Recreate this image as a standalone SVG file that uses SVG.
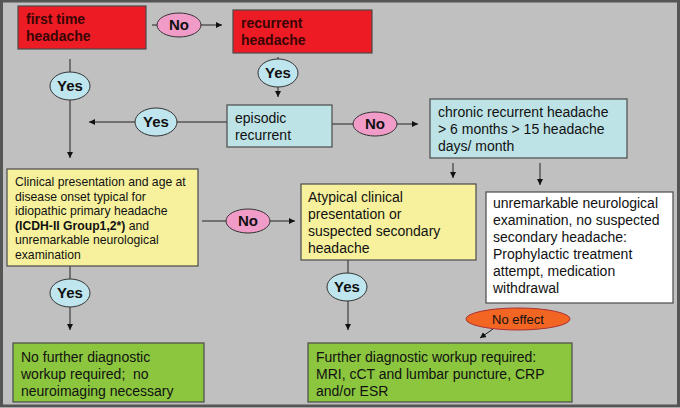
<svg xmlns="http://www.w3.org/2000/svg" width="680" height="408" viewBox="0 0 680 408">
<defs>
<marker id="ah" markerWidth="8" markerHeight="8" refX="6" refY="3" orient="auto" markerUnits="userSpaceOnUse">
<path d="M0,0 L6,3 L0,6 Z" fill="#111"/>
</marker>
<style>
text{font-family:"Liberation Sans",Arial,sans-serif;fill:#111}
.b{font-weight:bold}
.t14{font-size:14px}
.t12{font-size:12.2px}
.t13{font-size:13px}
.ys{font-size:15px;font-weight:bold}
.box{stroke:#4a4a4a;stroke-width:1.2}
.red{fill:#ed1c24}
.blue{fill:#bde3e6}
.yel{fill:#f7f19d}
.grn{fill:#8cc63f}
.wht{fill:#fff}
.yes{fill:#bfe6ee;stroke:#333;stroke-width:1}
.no{fill:#f09bc8;stroke:#333;stroke-width:1}
.ne{fill:#f26522;stroke:#a33;stroke-width:1}
.ln{stroke:#222;stroke-width:1;fill:none}
.arr{stroke:#222;stroke-width:1;fill:none;marker-end:url(#ah)}
.rt{fill:#3a0505}
</style>
</defs>
<rect x="1.5" y="1" width="677" height="405" fill="#c0c0c0" stroke="#555" stroke-width="3"/>

<g id="connectors">
<line class="ln" x1="152" y1="25" x2="157" y2="25"/>
<line class="arr" x1="201" y1="25" x2="222" y2="25"/>
<line class="ln" x1="278" y1="57" x2="278" y2="59"/>
<line class="arr" x1="278" y1="87" x2="278" y2="97"/>
<line class="ln" x1="70" y1="59" x2="70" y2="72"/>
<line class="arr" x1="70" y1="100" x2="70" y2="158"/>
<line class="ln" x1="227" y1="122" x2="177" y2="122"/>
<line class="arr" x1="135" y1="122" x2="89" y2="122"/>
<line class="ln" x1="332" y1="124" x2="353" y2="124"/>
<line class="arr" x1="397" y1="124" x2="418" y2="124"/>
<line class="arr" x1="453" y1="163" x2="453" y2="178"/>
<line class="arr" x1="540" y1="163" x2="540" y2="185"/>
<line class="ln" x1="202" y1="221" x2="226" y2="221"/>
<line class="arr" x1="270" y1="221" x2="295" y2="221"/>
<line class="ln" x1="70" y1="266" x2="70" y2="279"/>
<line class="arr" x1="70" y1="307" x2="70" y2="330"/>
<line class="ln" x1="348" y1="260" x2="348" y2="273"/>
<line class="arr" x1="348" y1="301" x2="348" y2="330"/>
<line class="arr" x1="493" y1="329" x2="480" y2="338"/>
</g>

<g id="first-time">
<rect class="box red" x="18" y="6" width="128" height="43"/>
<text class="b t14 rt" x="26" y="24">first time</text>
<text class="b t14 rt" x="26" y="41">headache</text>
</g>
<g id="no-1">
<ellipse class="no" cx="179" cy="25" rx="22" ry="12"/>
<text class="ys" x="179" y="30" text-anchor="middle">No</text>
</g>
<g id="recurrent">
<rect class="box red" x="233" y="10" width="139" height="43"/>
<text class="b t14 rt" x="241" y="28">recurrent</text>
<text class="b t14 rt" x="241" y="45">headache</text>
</g>
<g id="yes-recurrent">
<ellipse class="yes" cx="278" cy="73" rx="20" ry="14"/>
<text class="ys" x="278" y="78" text-anchor="middle">Yes</text>
</g>
<g id="yes-first">
<ellipse class="yes" cx="70" cy="86" rx="20" ry="14"/>
<text class="ys" x="70" y="91" text-anchor="middle">Yes</text>
</g>
<g id="episodic">
<rect class="box blue" x="227" y="105" width="105" height="42"/>
<text class="t14" x="235" y="123">episodic</text>
<text class="t14" x="235" y="140">recurrent</text>
</g>
<g id="yes-episodic">
<ellipse class="yes" cx="156" cy="122" rx="21" ry="14"/>
<text class="ys" x="156" y="127" text-anchor="middle">Yes</text>
</g>
<g id="no-episodic">
<ellipse class="no" cx="375" cy="124" rx="22" ry="12"/>
<text class="ys" x="375" y="129" text-anchor="middle">No</text>
</g>
<g id="chronic">
<rect class="box blue" x="430" y="99" width="197" height="59"/>
<text class="t14" x="438" y="117">chronic recurrent headache</text>
<text class="t14" x="438" y="134">&gt; 6 months &gt; 15 headache</text>
<text class="t14" x="438" y="151">days/ month</text>
</g>
<g id="typical">
<rect class="box yel" x="7" y="169" width="191" height="97"/>
<text class="t12" x="15" y="186">Clinical presentation and age at</text>
<text class="t12" x="15" y="201">disease onset typical for</text>
<text class="t12" x="15" y="215">idiopathic primary headache</text>
<text class="t12" x="15" y="230"><tspan class="b">(ICDH-II Group1,2*)</tspan> and</text>
<text class="t12" x="15" y="244">unremarkable neurological</text>
<text class="t12" x="15" y="259">examination</text>
</g>
<g id="no-typical">
<ellipse class="no" cx="248" cy="221" rx="22" ry="12"/>
<text class="ys" x="248" y="226" text-anchor="middle">No</text>
</g>
<g id="atypical">
<rect class="box yel" x="301" y="184" width="175" height="76"/>
<text class="t14" x="308" y="202">Atypical clinical</text>
<text class="t14" x="308" y="219">presentation or</text>
<text class="t14" x="308" y="236">suspected secondary</text>
<text class="t14" x="308" y="253">headache</text>
</g>
<g id="unremarkable">
<rect class="box wht" x="486" y="192" width="187" height="111"/>
<text class="t14" x="493" y="208">unremarkable neurological</text>
<text class="t14" x="493" y="225">examination, no suspected</text>
<text class="t14" x="493" y="242">secondary headache:</text>
<text class="t14" x="493" y="259">Prophylactic treatment</text>
<text class="t14" x="493" y="276">attempt, medication</text>
<text class="t14" x="493" y="293">withdrawal</text>
</g>
<g id="yes-typical">
<ellipse class="yes" cx="70" cy="293" rx="20" ry="14"/>
<text class="ys" x="70" y="298" text-anchor="middle">Yes</text>
</g>
<g id="yes-atypical">
<ellipse class="yes" cx="347" cy="287" rx="20" ry="14"/>
<text class="ys" x="347" y="292" text-anchor="middle">Yes</text>
</g>
<g id="no-effect">
<ellipse class="ne" cx="518" cy="319" rx="52" ry="11"/>
<text class="t13" x="518" y="324" text-anchor="middle">No effect</text>
</g>
<g id="no-further">
<rect class="box grn" x="13" y="343" width="191" height="59"/>
<text class="t14" x="21" y="362">No further diagnostic</text>
<text class="t14" x="21" y="379">workup required;&#160; no</text>
<text class="t14" x="21" y="396">neuroimaging necessary</text>
</g>
<g id="further">
<rect class="box grn" x="308" y="343" width="264" height="59"/>
<text class="t14" x="316" y="362">Further diagnostic workup required:</text>
<text class="t14" x="316" y="379">MRI, cCT and lumbar puncture, CRP</text>
<text class="t14" x="316" y="396">and/or ESR</text>
</g>
</svg>
